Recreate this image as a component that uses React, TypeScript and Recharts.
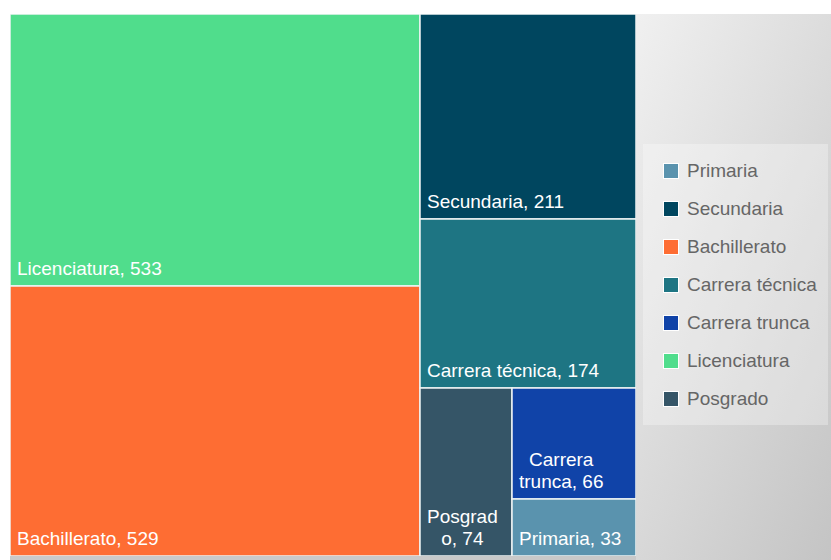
import { Treemap } from 'recharts';

const categories = ['Primaria', 'Secundaria', 'Bachillerato', 'Carrera técnica', 'Carrera trunca', 'Licenciatura', 'Posgrado'];
const values = [33, 211, 529, 174, 66, 533, 74];
const palette = ['#5a93ae', '#00465f', '#fe6d33', '#1e7583', '#1043a8', '#50dd8c', '#355567'];

const FONT_FAMILY = '"Liberation Sans", Arial, Helvetica, sans-serif';
const LABEL_SIZE = 19;

// treemap lays children out in the given order, so feed it largest first
const treeData = categories
  .map((name, i) => ({ name, value: values[i] }))
  .sort((a, b) => b.value - a.value);

const colorOf = (name: string) => palette[categories.indexOf(name)];

let ctx: CanvasRenderingContext2D | null = null;
function measure(s: string) {
  if (!ctx) ctx = document.createElement('canvas').getContext('2d');
  ctx!.font = `${LABEL_SIZE}px ${FONT_FAMILY}`;
  return ctx!.measureText(s).width;
}

function wrap(text: string, maxW: number): string[] {
  const lines: string[] = [];
  let cur = '';
  for (const w of text.split(' ')) {
    const cand = cur ? cur + ' ' + w : w;
    if (measure(cand) <= maxW) {
      cur = cand;
      continue;
    }
    if (cur) {
      lines.push(cur);
      cur = '';
    }
    if (measure(w) <= maxW) {
      cur = w;
      continue;
    }
    let piece = '';
    for (const ch of w) {
      if (piece && measure(piece + ch) > maxW) {
        lines.push(piece);
        piece = ch;
      } else piece += ch;
    }
    cur = piece;
  }
  if (cur) lines.push(cur);
  return lines;
}

function Cell(props: any) {
  const { x, y, width, height, name, value, depth } = props;
  if (depth !== 1) return <g />;
  const pad = 7;
  const lines = wrap(`${name}, ${value}`, width - 16);
  const blockW = Math.max(...lines.map(measure));
  const cx = x + pad + blockW / 2;
  const last = y + height - 11;
  return (
    <g>
      <rect x={x} y={y} width={width} height={height} fill={colorOf(name)} stroke="#eef3f3" strokeWidth={1.5} />
      {lines.map((l, i) => (
        <text
          key={i}
          x={cx}
          y={last - (lines.length - 1 - i) * 22}
          textAnchor="middle"
          fill="#ffffff"
          stroke="none"
          fontSize={LABEL_SIZE}
          fontFamily={FONT_FAMILY}
        >
          {l}
        </text>
      ))}
    </g>
  );
}

export default function App() {
  return (
    <div style={{ position: 'absolute', left: 0, top: 0, width: 831, height: 560, overflow: 'hidden', fontFamily: FONT_FAMILY }}>
      <div
        style={{
          position: 'absolute',
          left: 10,
          top: 14,
          width: 821,
          height: 546,
          background: 'linear-gradient(114deg, #ffffff 45%, #f0f0f0 59%, #c4c4c4 100%)',
        }}
      />
      <div style={{ position: 'absolute', left: 10, top: 556, width: 626, height: 4, background: '#c9c9c9' }} />
      <div style={{ position: 'absolute', left: 10, top: 14 }}>
        <Treemap
          width={626}
          height={542}
          data={treeData}
          dataKey="value"
          nameKey="name"
          aspectRatio={1}
          isAnimationActive={false}
          content={<Cell />}
        />
      </div>
      <div
        style={{
          position: 'absolute',
          left: 643,
          top: 144,
          width: 185,
          height: 281,
          background: 'rgba(255,255,255,0.3)',
        }}
      >
        {categories.map((c, i) => (
          <div key={c} style={{ position: 'absolute', left: 20, top: 19 + i * 38, height: 16, display: 'flex', alignItems: 'center' }}>
            <div style={{ width: 14, height: 14, background: palette[i], border: '1px solid #ffffff' }} />
            <span style={{ marginLeft: 8, fontSize: LABEL_SIZE, color: '#666666', lineHeight: '16px', whiteSpace: 'nowrap' }}>{c}</span>
          </div>
        ))}
      </div>
    </div>
  );
}
